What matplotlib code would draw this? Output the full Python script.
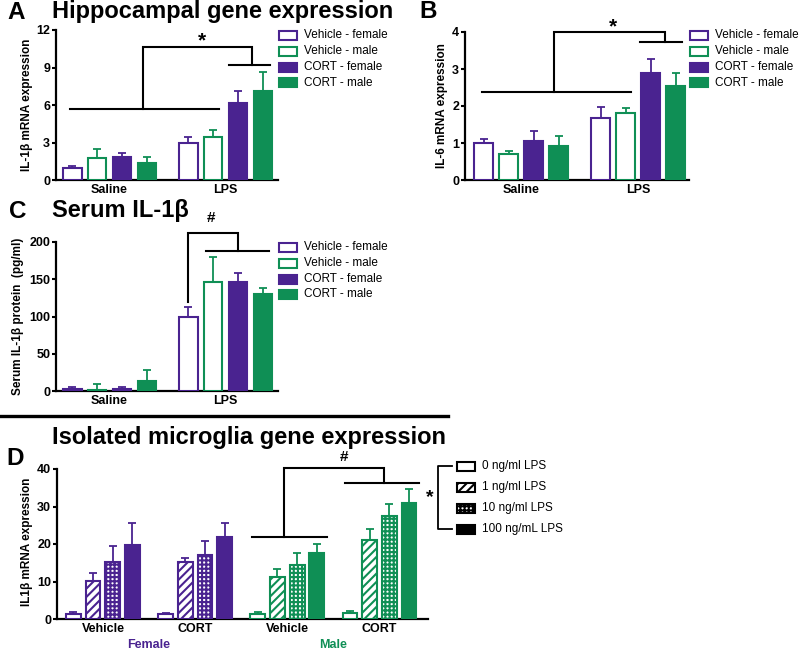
import numpy as np
import matplotlib
matplotlib.use('Agg')
import matplotlib.pyplot as plt
from matplotlib.patches import Rectangle

plt.rcParams['font.family'] = ['Liberation Sans', 'DejaVu Sans']
plt.rcParams['hatch.linewidth'] = 1.5

PURPLE = '#4a2390'
GREEN = '#0f8f55'

# ---- data ----
treat_groups = ['Saline', 'LPS']
series_labels = ['Vehicle - female', 'Vehicle - male', 'CORT - female', 'CORT - male']

a_saline = [0.97, 1.77, 1.85, 1.40]
a_saline_sem = [0.15, 0.68, 0.28, 0.47]
a_lps = [2.93, 3.47, 6.19, 7.15]
a_lps_sem = [0.48, 0.53, 0.96, 1.46]

b_saline = [0.99, 0.69, 1.05, 0.93]
b_saline_sem = [0.13, 0.10, 0.28, 0.26]
b_lps = [1.68, 1.82, 2.90, 2.55]
b_lps_sem = [0.30, 0.13, 0.38, 0.33]

c_saline = [3, 1, 3, 13]
c_saline_sem = [2, 9, 2, 15]
c_lps = [100, 146, 146, 130]
c_lps_sem = [12.5, 33.5, 13, 8]

d_groups = ['Vehicle', 'CORT', 'Vehicle', 'CORT']
d_sexes = ['Female', 'Male']
d_doses = ['0 ng/ml LPS', '1 ng/ml LPS', '10 ng/ml LPS', '100 ng/mL LPS']
d_female_veh = [1.3, 10.1, 15.3, 19.7]
d_female_veh_sem = [0.7, 2.2, 4.3, 6.0]
d_female_cort = [1.3, 15.3, 17.0, 22.0]
d_female_cort_sem = [0.3, 0.9, 3.9, 3.6]
d_male_veh = [1.3, 11.3, 14.4, 17.6]
d_male_veh_sem = [0.5, 2.0, 3.1, 2.5]
d_male_cort = [1.5, 21.2, 27.5, 31.0]
d_male_cort_sem = [0.6, 2.7, 3.3, 3.6]

series_colors = [PURPLE, GREEN, PURPLE, GREEN]
series_filled = [False, False, True, True]
dose_hatches = [None, '////', '++++', None]
dose_filled = [False, False, False, True]

GROUP_OFFSET = 4.68

W, H = 800, 653
fig = plt.figure(figsize=(W / 100, H / 100), dpi=100)


def fx(x):
    return x / W


def fy(y):
    return 1 - y / H


def add_ax(left, top, right, bottom):
    return fig.add_axes([left / W, 1 - bottom / H, (right - left) / W, (bottom - top) / H])


def style_axes(ax, xlim, ylim, yticks, xpos, xlabels):
    ax.set_xlim(*xlim)
    ax.set_ylim(*ylim)
    ax.set_yticks(yticks, [str(t) for t in yticks], fontweight='bold')
    ax.set_xticks(xpos, xlabels, fontweight='bold')
    for s in ['top', 'right']:
        ax.spines[s].set_visible(False)
    for s in ['left', 'bottom']:
        ax.spines[s].set_linewidth(1.6)
    ax.tick_params(axis='y', direction='out', length=3.2, width=1.5, labelsize=9, pad=1)
    ax.tick_params(axis='x', length=0, labelsize=9, pad=3)


def draw_bars(ax, xs, means, sems, colors, filled, hatches, width):
    for x, m, s, c, f, h in zip(xs, means, sems, colors, filled, hatches):
        ax.bar(x, m, width=width, facecolor=c if f else 'white', edgecolor=c,
               linewidth=1.5, hatch=h, zorder=3)
        ax.errorbar(x, m, yerr=[[0], [s]], fmt='none', ecolor=c, elinewidth=1.3,
                    capsize=2.6, capthick=1.3, zorder=2)


def bracket(ax, xs, ys):
    ax.plot(xs, ys, color='black', lw=1.5, clip_on=False, solid_joinstyle='miter')


def legend_box(x, ys, labels, colors, filled, hatches, h=9, fs=8.5):
    for y, lab, c, f, hh in zip(ys, labels, colors, filled, hatches):
        fig.add_artist(Rectangle((fx(x), fy(y + h / 2)), 18 / W, h / H, transform=fig.transFigure,
                                 facecolor=c if f else 'white', edgecolor=c, linewidth=1.5, hatch=hh))
        fig.text(fx(x + 25), fy(y), lab, fontsize=fs, va='center', ha='left')


def two_group_panel(ax, saline, saline_sem, lps, lps_sem, width):
    base = np.arange(4)
    draw_bars(ax, base, saline, saline_sem, series_colors, series_filled, [None] * 4, width)
    draw_bars(ax, base + GROUP_OFFSET, lps, lps_sem, series_colors, series_filled, [None] * 4, width)
    return [1.5, 1.5 + GROUP_OFFSET]


# ---- Panel A ----
axA = add_ax(56, 30, 278, 180)
centers = two_group_panel(axA, a_saline, a_saline_sem, a_lps, a_lps_sem, 0.74)
style_axes(axA, (-0.66, 8.29), (0, 12), [0, 3, 6, 9, 12], centers, treat_groups)
bracket(axA, [-0.08, 5.9], [5.65, 5.65])
bracket(axA, [2.86, 2.86, 7.26, 7.26], [5.65, 10.67, 10.67, 9.2])
bracket(axA, [6.33, 7.98], [9.2, 9.2])
axA.text(5.24, 11.1, '*', fontsize=15, fontweight='bold', ha='center', va='center')
fig.text(fx(27), fy(105), 'IL-1β mRNA expression', rotation=90, fontsize=8.5,
         fontweight='bold', ha='center', va='center')
legend_box(279, [35, 51, 67, 82.5], series_labels, series_colors, series_filled, [None] * 4)
fig.text(fx(7), fy(19), 'A', fontsize=17.5, fontweight='bold', va='baseline')
fig.text(fx(52), fy(18), 'Hippocampal gene expression', fontsize=17, fontweight='bold', va='baseline')

# ---- Panel B ----
axB = add_ax(465, 32, 689, 180)
centers = two_group_panel(axB, b_saline, b_saline_sem, b_lps, b_lps_sem, 0.73)
style_axes(axB, (-0.74, 8.22), (0, 4), [0, 1, 2, 3, 4], centers, treat_groups)
bracket(axB, [-0.06, 5.9], [2.37, 2.37])
bracket(axB, [2.82, 2.82, 7.26, 7.26], [2.37, 4.0, 4.0, 3.74])
bracket(axB, [6.26, 7.94], [3.74, 3.74])
axB.text(5.18, 4.14, '*', fontsize=15, fontweight='bold', ha='center', va='center')
fig.text(fx(442), fy(106), 'IL-6 mRNA expression', rotation=90, fontsize=8.5,
         fontweight='bold', ha='center', va='center')
legend_box(690, [35, 51, 67, 82.5], series_labels, series_colors, series_filled, [None] * 4)
fig.text(fx(419), fy(18), 'B', fontsize=17.5, fontweight='bold', va='baseline')

# ---- Panel C ----
axC = add_ax(56, 242, 278, 391)
centers = two_group_panel(axC, c_saline, c_saline_sem, c_lps, c_lps_sem, 0.74)
style_axes(axC, (-0.66, 8.29), (0, 200), [0, 50, 100, 150, 200], centers, treat_groups)
bracket(axC, [4.68, 4.68, 6.69, 6.69], [120, 212, 212, 188.5])
bracket(axC, [5.4, 7.94], [188.5, 188.5])
axC.text(5.57, 232, '#', fontsize=11, fontweight='bold', ha='center', va='center')
fig.text(fx(18), fy(316), 'Serum IL-1β protein  (pg/ml)', rotation=90, fontsize=8.5,
         fontweight='bold', ha='center', va='center')
legend_box(279, [247, 263, 279, 294], series_labels, series_colors, series_filled, [None] * 4)
fig.text(fx(9), fy(218), 'C', fontsize=17.5, fontweight='bold', va='baseline')
fig.text(fx(52), fy(217), 'Serum IL-1β', fontsize=17, fontweight='bold', va='baseline')

# separator
fig.add_artist(plt.Line2D([0, fx(448)], [fy(416), fy(416)], color='black', lw=2.4,
                          transform=fig.transFigure))

# ---- Panel D ----
axD = add_ax(57, 469, 428, 619)
d_values = [d_female_veh, d_female_cort, d_male_veh, d_male_cort]
d_sems = [d_female_veh_sem, d_female_cort_sem, d_male_veh_sem, d_male_cort_sem]
d_colors = [PURPLE, PURPLE, GREEN, GREEN]
d_centers = []
for g, (vals, sems, col) in enumerate(zip(d_values, d_sems, d_colors)):
    xs = np.arange(4) + g * GROUP_OFFSET
    draw_bars(axD, xs, vals, sems, [col] * 4, dose_filled, dose_hatches, 0.75)
    d_centers.append(xs.mean())
style_axes(axD, (-0.83, 18.0), (0, 40), [0, 10, 20, 30, 40], d_centers, d_groups)
bracket(axD, [9.07, 12.87], [21.8, 21.8])
bracket(axD, [10.7, 10.7, 15.77, 15.77], [21.8, 40.2, 40.2, 36.2])
bracket(axD, [13.79, 17.55], [36.2, 36.2])
axD.text(13.74, 43.2, '#', fontsize=11, fontweight='bold', ha='center', va='center', clip_on=False)
for i, (sex, col) in enumerate(zip(d_sexes, [PURPLE, GREEN])):
    xc = (d_centers[2 * i] + d_centers[2 * i + 1]) / 2
    axD.text(xc, -0.175, sex, color=col, fontsize=9, fontweight='bold', ha='center', va='center',
             transform=axD.get_xaxis_transform())
fig.text(fx(27), fy(542), 'IL1β mRNA expression', rotation=90, fontsize=8.5,
         fontweight='bold', ha='center', va='center')
fig.text(fx(6), fy(465), 'D', fontsize=17.5, fontweight='bold', va='baseline')
fig.text(fx(52), fy(444), 'Isolated microglia gene expression', fontsize=17, fontweight='bold',
         va='baseline')

# dose legend with bracket
legend_box(457, [466, 487, 508, 529], d_doses, ['black'] * 4, dose_filled, dose_hatches, h=9, fs=8.5)
fig.add_artist(plt.Line2D([fx(452), fx(438), fx(438), fx(452)],
                          [fy(466), fy(466), fy(529), fy(529)], color='black', lw=1.3,
                          transform=fig.transFigure))
fig.text(fx(430), fy(498), '*', fontsize=14, fontweight='bold', ha='center', va='center')

fig.savefig('out.png', dpi=100)
